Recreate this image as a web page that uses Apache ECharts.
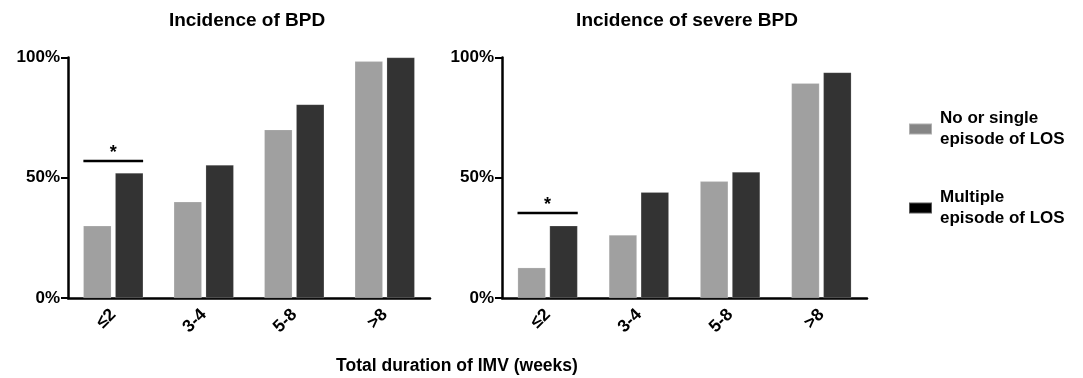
<!DOCTYPE html>
<html>
<head>
<meta charset="utf-8">
<script src="https://cdn.jsdelivr.net/npm/echarts@6/dist/echarts.min.js"></script>
<style>
html,body{margin:0;padding:0;background:#fff;}
#chart{width:1083px;height:378px;}
</style>
</head>
<body>
<div id="chart"></div>
<script>
// ---- data ----
const categories = ['≤2', '3-4', '5-8', '>8'];
const seriesNames = ['No or single\nepisode of LOS', 'Multiple\nepisode of LOS'];
const bpdSingle = [30, 40, 70, 98.4];
const bpdMultiple = [52, 55.3, 80.5, 100];
const severeSingle = [12.6, 26.2, 48.5, 89.3];
const severeMultiple = [30, 44, 52.4, 93.8];
const sigBPD = [[0, 57]];
const sigSevere = [[0, 35.3]];
const yTicks = [0, 50, 100];
const titles = ['Incidence of BPD', 'Incidence of severe BPD'];
const xAxisTitle = 'Total duration of IMV (weeks)';

const FONT = '"Liberation Sans", Arial, sans-serif';
const chart = echarts.init(document.getElementById('chart'));

function xAxisCfg(gi) {
  return {
    type: 'category', gridIndex: gi, data: categories,
    axisLine: {lineStyle: {color: '#000', width: 2.5}},
    axisTick: {alignWithLabel: true, length: 7, lineStyle: {color: '#000', width: 2}},
    axisLabel: {rotate: 45, margin: 14, color: '#000', fontWeight: 'bold', fontSize: 17.5, fontFamily: FONT},
    splitLine: {show: false}
  };
}
function yAxisCfg(gi) {
  return {
    type: 'value', gridIndex: gi, min: yTicks[0], max: yTicks[yTicks.length - 1], interval: 50,
    axisLine: {show: true, lineStyle: {color: '#000', width: 2.5}},
    axisTick: {show: true, length: 7, lineStyle: {color: '#000', width: 2}},
    axisLabel: {formatter: '{value}%', color: '#000', fontWeight: 'bold', fontSize: 17, fontFamily: FONT, margin: 8},
    splitLine: {show: false}
  };
}
function sigSeries(gi, data) {
  return {
    type: 'custom', xAxisIndex: gi, yAxisIndex: gi, data: data, silent: true, z: 5,
    renderItem: function (params, api) {
      const c = api.coord([api.value(0), api.value(1)]);
      const bw = api.size([1, 0])[0];
      const half = bw * 0.33;
      return {
        type: 'group',
        children: [
          {type: 'line', shape: {x1: c[0] - half, y1: c[1], x2: c[0] + half, y2: c[1]},
           style: {stroke: '#000', lineWidth: 2.5}},
          {type: 'text', x: c[0], y: c[1] - 8,
           style: {text: '*', fill: '#000', font: 'bold 18px ' + FONT, align: 'center', verticalAlign: 'middle'}}
        ]
      };
    }
  };
}
function barSeries(gi, name, data, color) {
  return {
    type: 'bar', name: name, xAxisIndex: gi, yAxisIndex: gi, data: data,
    barWidth: 28, barGap: '14%',
    itemStyle: {color: color, borderColor: 'rgba(255,255,255,0.35)', borderWidth: 0.5}
  };
}

chart.setOption({
  backgroundColor: '#fff',
  animation: false,
  title: [
    {text: titles[0], left: 247, top: 11, textAlign: 'center', padding: 0,
     textStyle: {fontSize: 19, fontWeight: 'bold', color: '#000', fontFamily: FONT}},
    {text: titles[1], left: 687, top: 11, textAlign: 'center', padding: 0,
     textStyle: {fontSize: 19, fontWeight: 'bold', color: '#000', fontFamily: FONT}},
    {text: xAxisTitle, left: 457, top: 357, textAlign: 'center', padding: 0,
     textStyle: {fontSize: 17.5, fontWeight: 'bold', color: '#000', fontFamily: FONT}}
  ],
  legend: {
    orient: 'vertical', left: 903, top: 103, itemWidth: 23, itemHeight: 11, itemGap: 37,
    icon: 'rect',
    data: [
      {name: seriesNames[0], itemStyle: {color: '#858585'}},
      {name: seriesNames[1], itemStyle: {color: '#000'}}
    ],
    textStyle: {fontSize: 17, fontWeight: 'bold', color: '#000', fontFamily: FONT, lineHeight: 21, padding: [0, 0, 0, 3]}
  },
  grid: [
    {left: 68, width: 362, top: 57.5, bottom: 80},
    {left: 502, width: 365, top: 57.5, bottom: 80}
  ],
  xAxis: [xAxisCfg(0), xAxisCfg(1)],
  yAxis: [yAxisCfg(0), yAxisCfg(1)],
  series: [
    barSeries(0, seriesNames[0], bpdSingle, '#a0a0a0'),
    barSeries(0, seriesNames[1], bpdMultiple, '#333333'),
    barSeries(1, seriesNames[0], severeSingle, '#a0a0a0'),
    barSeries(1, seriesNames[1], severeMultiple, '#333333'),
    sigSeries(0, sigBPD),
    sigSeries(1, sigSevere)
  ]
});
</script>
</body>
</html>
